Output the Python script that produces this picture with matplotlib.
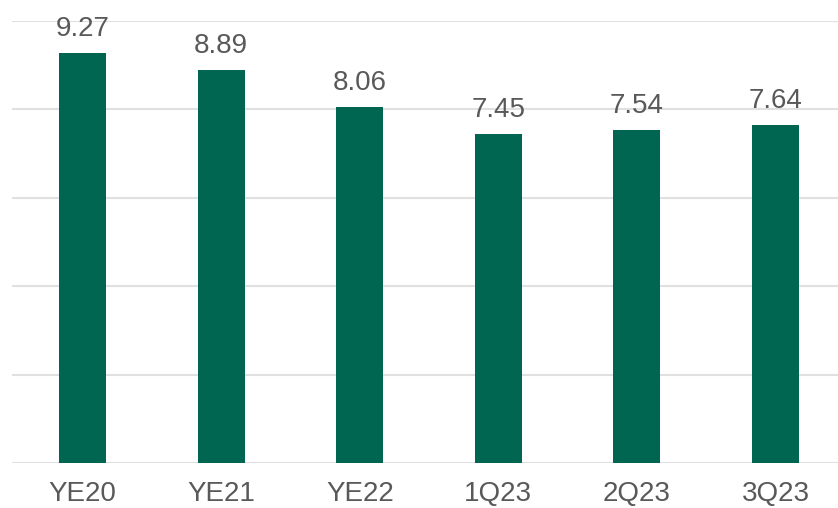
import matplotlib
matplotlib.use("Agg")
import matplotlib.pyplot as plt

categories = ["YE20", "YE21", "YE22", "1Q23", "2Q23", "3Q23"]
values = [9.27, 8.89, 8.06, 7.45, 7.54, 7.64]

plt.rcParams['font.family'] = ['Liberation Sans', 'DejaVu Sans']

fig = plt.figure(figsize=(8.38, 5.08), dpi=100)
ax = fig.add_axes([12 / 838, 45 / 508, 826 / 838, 442 / 508])

x = range(len(categories))
bars = ax.bar(x, values, width=0.34, color="#006652", zorder=3)

# подписи значений над столбцами
for b, v in zip(bars, values):
    ax.annotate(f"{v:.2f}", (b.get_x() + b.get_width() / 2, v),
                xytext=(0, 8), textcoords="offset points",
                ha="center", va="bottom", fontsize=20, color="#595959")

ax.set_ylim(0, 10)
ax.set_xlim(-0.509, 5.451)
ax.set_yticks([0, 2, 4, 6, 8, 10])
ax.yaxis.grid(True, color="#e0e0e0", linewidth=1.5, zorder=0)
ax.set_yticklabels([])
ax.tick_params(axis="y", length=0)
ax.set_xticks(list(x))
ax.set_xticklabels(categories, fontsize=20, color="#595959")
ax.tick_params(axis="x", length=0, pad=13)
for s in ax.spines.values():
    s.set_visible(False)

fig.savefig("out.png", dpi=100)
